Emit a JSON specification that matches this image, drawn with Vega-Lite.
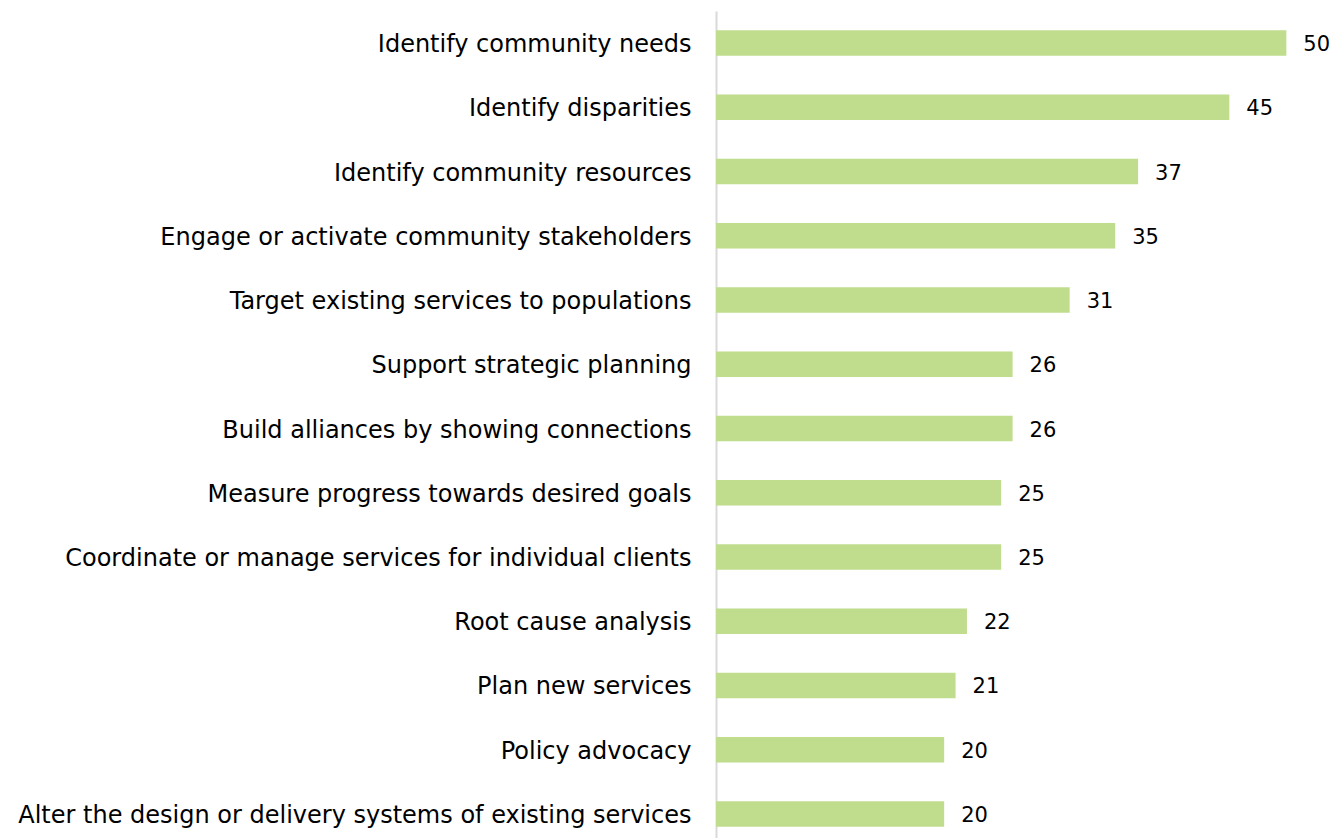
{
  "$schema": "https://vega.github.io/schema/vega-lite/v6.json",
  "width": 616,
  "height": 827,
  "autosize": {"type": "none"},
  "padding": {"left": 716, "top": 11, "right": 0, "bottom": 0},
  "background": "white",
  "config": {"view": {"stroke": null}},
  "data": {
    "values": [
      {"item": "Identify community needs", "value": 50},
      {"item": "Identify disparities", "value": 45},
      {"item": "Identify community resources", "value": 37},
      {"item": "Engage or activate community stakeholders", "value": 35},
      {"item": "Target existing services to populations", "value": 31},
      {"item": "Support strategic planning", "value": 26},
      {"item": "Build alliances by showing connections", "value": 26},
      {"item": "Measure progress towards desired goals", "value": 25},
      {"item": "Coordinate or manage services for individual clients", "value": 25},
      {"item": "Root cause analysis", "value": 22},
      {"item": "Plan new services", "value": 21},
      {"item": "Policy advocacy", "value": 20},
      {"item": "Alter the design or delivery systems of existing services", "value": 20}
    ]
  },
  "encoding": {
    "y": {
      "field": "item",
      "type": "nominal",
      "sort": null,
      "scale": {"paddingInner": 0.6, "paddingOuter": 0.236, "align": 0.632},
      "axis": {
        "title": null,
        "ticks": false,
        "domainColor": "#d9d9d9",
        "domainWidth": 2,
        "labelFont": "DejaVu Sans",
        "labelFontSize": 24,
        "labelColor": "#000000",
        "labelPadding": 25,
        "labelOffset": 2,
        "labelLimit": 800
      }
    },
    "x": {
      "field": "value",
      "type": "quantitative",
      "scale": {"domain": [0, 54]},
      "axis": null
    }
  },
  "layer": [
    {"mark": {"type": "bar", "color": "#c0dc8d"}},
    {
      "mark": {"type": "text", "align": "left", "baseline": "middle", "dx": 17, "dy": 2, "font": "DejaVu Sans", "fontSize": 21, "color": "#000000"},
      "encoding": {"text": {"field": "value", "type": "quantitative"}}
    }
  ]
}
